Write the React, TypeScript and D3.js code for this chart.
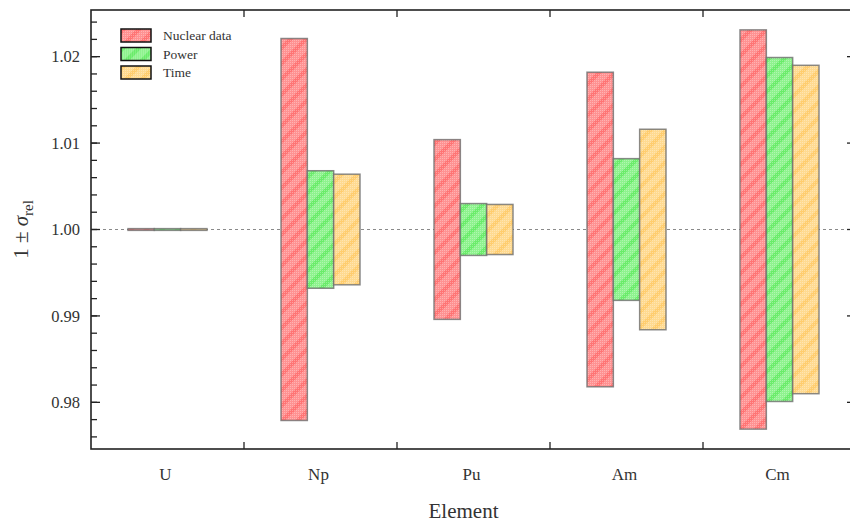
import React from "react";
import * as d3 from "d3";

const elements = ["U", "Np", "Pu", "Am", "Cm"];
const seriesNames = ["Nuclear data", "Power", "Time"];
const nuclearData = [0.0001, 0.0221, 0.0104, 0.0182, 0.0231];
const power = [0.0001, 0.0068, 0.0030, 0.0082, 0.0199];
const time = [0.0001, 0.0064, 0.0029, 0.0116, 0.0190];
const yTicks = [0.98, 0.99, 1.0, 1.01, 1.02];

const seriesValues = [nuclearData, power, time];
const fills = ["#ff9292", "#8ef38e", "#ffda90"];
const stripes = ["#ff7474", "#6aec6a", "#ffcd6e"];

const W = 850;
const H = 522;
const M = { left: 91, right: 856, top: 10, bottom: 449 };

export default function App() {
  const x = d3.scaleBand<string>().domain(elements).range([M.left, M.right]).padding(0);
  const y = d3.scaleLinear().domain([0.9746, 1.0254]).range([M.bottom, M.top]);
  const groupW = 79;
  const inner = d3.scaleBand<string>().domain(seriesNames).range([0, groupW]).padding(0);
  const minor = d3.range(0.976, 1.0241, 0.002);
  const bw = x.bandwidth();
  const font = "'Liberation Serif', 'DejaVu Serif', serif";

  return (
    <svg width={W} height={H} style={{ position: "absolute", left: 0, top: 0 }}>
      <defs>
        {seriesNames.map((s, i) => (
          <pattern key={s} id={`hatch${i}`} width={11} height={11} patternUnits="userSpaceOnUse" patternTransform="rotate(45)">
            <rect width={11} height={11} fill={fills[i]} />
            <rect width={4} height={11} fill={stripes[i]} />
          </pattern>
        ))}
        <pattern id="dots" width={2} height={2} patternUnits="userSpaceOnUse">
          <rect width={1} height={1} fill="#ffffff" opacity={0.3} />
        </pattern>
        <clipPath id="plotclip">
          <rect x={M.left} y={M.top} width={M.right - M.left} height={M.bottom - M.top} />
        </clipPath>
      </defs>
      <rect x={0} y={0} width={W} height={H} fill="#fff" />

      {/* dashed reference line */}
      <line x1={M.left} x2={M.right} y1={y(1)} y2={y(1)} stroke="#8a8a8a" strokeWidth={1.2} strokeDasharray="3,3" />

      {/* bars */}
      <g clipPath="url(#plotclip)">
        {elements.map((el, ei) => {
          const gx = (x(el) as number) + bw / 2 - groupW / 2;
          return seriesNames.map((s, si) => {
            const v = seriesValues[si][ei];
            const bx = gx + (inner(s) as number);
            const top = y(1 + v);
            const bot = y(1 - v);
            const w = inner.bandwidth();
            return (
              <g key={el + s}>
                <rect x={bx} y={top} width={w} height={bot - top} fill={`url(#hatch${si})`} />
                <rect x={bx} y={top} width={w} height={bot - top} fill="url(#dots)" />
                <rect x={bx} y={top} width={w} height={bot - top} fill="none" stroke="#6e6e6e" strokeOpacity={0.8} strokeWidth={1.5} />
              </g>
            );
          });
        })}
      </g>

      {/* frame */}
      <rect x={M.left} y={M.top} width={M.right - M.left} height={M.bottom - M.top} fill="none" stroke="#222" strokeWidth={1.6} />

      {/* y ticks */}
      {minor.map((t) => (
        <g key={"m" + t}>
          <line x1={M.left} x2={M.left + 6} y1={y(t)} y2={y(t)} stroke="#222" strokeWidth={1.3} />
          <line x1={M.right} x2={M.right - 6} y1={y(t)} y2={y(t)} stroke="#222" strokeWidth={1.3} />
        </g>
      ))}
      {yTicks.map((t) => (
        <g key={"y" + t}>
          <line x1={M.left} x2={M.left + 9} y1={y(t)} y2={y(t)} stroke="#222" strokeWidth={1.3} />
          <line x1={M.right} x2={M.right - 9} y1={y(t)} y2={y(t)} stroke="#222" strokeWidth={1.3} />
          <text x={M.left - 11} y={y(t)} dy="0.35em" textAnchor="end" fontFamily={font} fontSize={16.5} fill="#333">
            {d3.format(".2f")(t)}
          </text>
        </g>
      ))}

      {/* x ticks */}
      {elements.slice(1).map((el) => (
        <g key={"xt" + el}>
          <line x1={x(el)} x2={x(el)} y1={M.bottom} y2={M.bottom - 7} stroke="#222" strokeWidth={1.3} />
          <line x1={x(el)} x2={x(el)} y1={M.top} y2={M.top + 7} stroke="#222" strokeWidth={1.3} />
        </g>
      ))}
      {elements.map((el) => (
        <text key={"xl" + el} x={(x(el) as number) + bw / 2 - 2} y={M.bottom + 31} textAnchor="middle" fontFamily={font} fontSize={17} fill="#333">
          {el}
        </text>
      ))}

      {/* axis titles */}
      <text x={(M.left + M.right) / 2 - 10} y={518} textAnchor="middle" fontFamily={font} fontSize={21} fill="#333">
        Element
      </text>
      <text transform={`translate(28, ${y(1)}) rotate(-90)`} textAnchor="middle" fontFamily={font} fontSize={21} fill="#333">
        <tspan>1 ± </tspan>
        <tspan fontStyle="italic">σ</tspan>
        <tspan fontSize={15} dy={5}>rel</tspan>
      </text>

      {/* legend */}
      {seriesNames.map((s, i) => (
        <g key={"lg" + s} transform={`translate(121, ${29 + i * 18.5})`}>
          <rect x={0} y={0} width={30} height={13} fill={`url(#hatch${i})`} />
          <rect x={0} y={0} width={30} height={13} fill="url(#dots)" />
          <rect x={0} y={0} width={30} height={13} fill="none" stroke="#111" strokeWidth={1.5} />
          <text x={42} y={6.5} dy="0.35em" fontFamily={font} fontSize={13.5} fill="#333">
            {s}
          </text>
        </g>
      ))}
    </svg>
  );
}
